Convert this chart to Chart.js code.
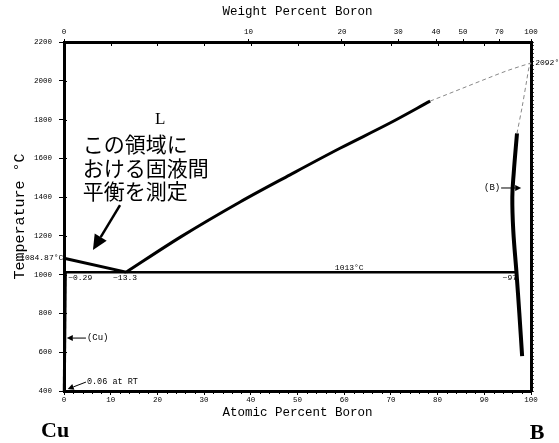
<!DOCTYPE html>
<html><head><meta charset="utf-8">
<script src="https://cdn.jsdelivr.net/npm/chart.js@4/dist/chart.umd.min.js"></script>
<style>html,body{margin:0;padding:0;background:#fff;}canvas{display:block}</style>
</head><body>
<canvas id="c" width="559" height="443"></canvas>
<script>
// ---- data (atomic % B, temperature °C) ----
const atomicTicks = [0,10,20,30,40,50,60,70,80,90,100];
const weightTickLabels = [0,10,20,30,40,50,70,100];
const tempTicks = [400,600,800,1000,1200,1400,1600,1800,2000,2200];
const liquidusCuX = [0, 13.3];
const liquidusCuT = [1084.87, 1013];
const liquidusBX = [13.3, 25, 37.7, 48.4, 59.1, 69.8, 78.4];
const liquidusBT = [1013, 1195, 1375, 1515, 1652, 1782, 1895];
const liquidusBDashX = [78.4, 83.3, 90.6, 94.9, 100];
const liquidusBDashT = [1895, 1942, 2012, 2052, 2092];
const solvusBX = [97.0, 96.3, 96.0, 96.2, 96.9, 97.5, 98.1];
const solvusBT = [1729, 1524, 1400, 1230, 1008, 802, 580];
const solvusBDashX = [97.0, 98.1, 99.1, 99.6, 100];
const solvusBDashT = [1729, 1865, 2004, 2072, 2092];
const eutecticX = [0, 96.9];
const eutecticT = [1013, 1013];
const solvusCuX = [0.29, 0.06];
const solvusCuT = [1013, 400];

const M_B = 10.81, M_CU = 63.546;
const wtToAt = w => { const b = w / M_B, c = (100 - w) / M_CU; return 100 * b / (b + c); };
const pts = (xs, ys) => xs.map((v, i) => ({x: v, y: ys[i]}));

const MONO = '"Liberation Mono", "DejaVu Sans Mono", monospace';

function ds(xs, ys, w, dash, color, smooth) {
  const d = {data: pts(xs, ys), showLine: true, pointRadius: 0, borderColor: color || '#000',
    borderWidth: w, borderDash: dash || [], tension: 0, fill: false, clip: false};
  if (smooth === 'mono') d.cubicInterpolationMode = 'monotone';
  else if (smooth) d.tension = smooth;
  return d;
}

// annotation texts in data coordinates
const notes = [
  {t:'1084.87°C', x:-0.15, y:1086, align:'right', size:8},
  {t:'~0.29', x:0.9, y:983, align:'left', size:8},
  {t:'~13.3', x:10.5, y:983, align:'left', size:8},
  {t:'1013°C', x:58.0, y:1034, align:'left', size:8},
  {t:'~97', x:97.0, y:981, align:'right', size:8},
  {t:'(Cu)', x:4.9, y:673, align:'left', size:9},
  {t:'0.06 at RT', x:4.9, y:446, align:'left', size:8.5},
  {t:'(B)', x:93.4, y:1447, align:'right', size:9},
  {t:'2092°C', x:100.9, y:2092, align:'left', size:8}
];
const jpLines = ['この領域に', 'おける固液間', '平衡を測定'];
const jpY = [1674, 1550, 1431];
const arrows = [
  {from:[12.0,1359], to:[6.2,1127], head:15, hw:7, lw:2.5},
  {from:[4.7,673], to:[0.6,673], head:6, hw:3, lw:1},
  {from:[4.7,446], to:[0.8,410], head:6, hw:3, lw:1},
  {from:[93.6,1447], to:[97.9,1447], head:6, hw:3, lw:1}
];

const annot = {
  id: 'annot',
  afterDraw(chart) {
    const {ctx, scales: {x, y}} = chart;
    const px = v => x.getPixelForValue(v), py = v => y.getPixelForValue(v);
    ctx.save();
    ctx.fillStyle = '#000'; ctx.strokeStyle = '#000';
    ctx.lineWidth = 1;
    for (let v = 2; v < 100; v += 2) {
      if (v % 10 === 0) continue;
      const X = Math.round(px(v)) + 0.5;
      ctx.beginPath(); ctx.moveTo(X, y.bottom + 1); ctx.lineTo(X, y.bottom + 3); ctx.stroke();
    }
    tempTicks.forEach(t => {
      const Y = Math.round(py(t)) + 0.5;
      ctx.beginPath(); ctx.moveTo(x.left, Y); ctx.lineTo(x.left + 3, Y); ctx.stroke();
    });
    atomicTicks.forEach(a => {
      const X = Math.round(px(a)) + 0.5;
      ctx.beginPath(); ctx.moveTo(X, y.top); ctx.lineTo(X, y.top + 4); ctx.stroke();
    });
    ctx.textBaseline = 'middle';
    notes.forEach(n => {
      ctx.font = n.size + 'px ' + MONO;
      ctx.textAlign = n.align;
      ctx.fillText(n.t, px(n.x), py(n.y));
    });
    ctx.font = '17px "Liberation Serif", serif';
    ctx.textAlign = 'center';
    ctx.fillText('L', px(20.6), py(1798));
    ctx.font = '21px "Noto Sans CJK JP", sans-serif';
    ctx.textAlign = 'left';
    jpLines.forEach((s, i) => ctx.fillText(s, px(4.0), py(jpY[i])));
    ctx.font = 'bold 22px "Liberation Serif", serif';
    ctx.textAlign = 'center';
    ctx.fillText('Cu', px(-1.9), py(194));
    ctx.fillText('B', px(101.3), py(183));
    arrows.forEach(a => {
      const x1 = px(a.from[0]), y1 = py(a.from[1]), x2 = px(a.to[0]), y2 = py(a.to[1]);
      const ang = Math.atan2(y2 - y1, x2 - x1);
      const bx = x2 - a.head * Math.cos(ang), by = y2 - a.head * Math.sin(ang);
      ctx.lineWidth = a.lw;
      ctx.beginPath(); ctx.moveTo(x1, y1); ctx.lineTo(bx, by); ctx.stroke();
      ctx.beginPath();
      ctx.moveTo(x2, y2);
      ctx.lineTo(bx + a.hw * Math.sin(ang), by - a.hw * Math.cos(ang));
      ctx.lineTo(bx - a.hw * Math.sin(ang), by + a.hw * Math.cos(ang));
      ctx.closePath(); ctx.fill();
    });
    ctx.restore();
  }
};

const minorT = [];
for (let t = 400; t <= 2200; t += 20) minorT.push(t);

new Chart(document.getElementById('c'), {
  type: 'scatter',
  data: {datasets: [
    ds(eutecticX, eutecticT, 2.5),
    ds(solvusCuX, solvusCuT, 3),
    ds(liquidusCuX, liquidusCuT, 3),
    ds(liquidusBX, liquidusBT, 3, null, '#000', 'mono'),
    ds(liquidusBDashX, liquidusBDashT, 1, [4, 3], '#888', 'mono'),
    ds(solvusBDashX, solvusBDashT, 1, [4, 3], '#888', 0.3),
    ds(solvusBX, solvusBT, 4, null, '#000', 0.4)
  ]},
  options: {
    responsive: false, animation: false, devicePixelRatio: 1,
    layout: {padding: 0},
    plugins: {legend: {display: false}, tooltip: {enabled: false}},
    scales: {
      x: {
        type: 'linear', position: 'bottom', min: 0, max: 100,
        afterBuildTicks: s => { s.ticks = atomicTicks.map(v => ({value: v})); },
        ticks: {font: {family: MONO, size: 7.5}, color: '#000', padding: 1, maxRotation: 0, autoSkip: false,
          callback: v => String(v)},
        grid: {drawOnChartArea: false, drawTicks: true, tickLength: 4, color: '#000', lineWidth: 1},
        border: {display: true, color: '#000', width: 3},
        title: {display: true, text: 'Atomic Percent Boron', color: '#000',
          font: {family: MONO, size: 12.5}, padding: {top: 0, bottom: 22.5}},
        afterFit: s => { s.height = 52; }
      },
      xTop: {
        type: 'linear', position: 'top', min: 0, max: 100,
        afterBuildTicks: s => { s.ticks = weightTickLabels.map(w => ({value: wtToAt(w)})); },
        ticks: {font: {family: MONO, size: 7.5}, color: '#000', padding: 2, maxRotation: 0, autoSkip: false,
          callback: (v, i) => String(weightTickLabels[i])},
        grid: {drawOnChartArea: false, drawTicks: true, tickLength: 3, color: '#000', lineWidth: 1},
        border: {display: true, color: '#000', width: 3},
        title: {display: true, text: 'Weight Percent Boron', color: '#000',
          font: {family: MONO, size: 12.5}, padding: {top: 4.5, bottom: 0}},
        afterFit: s => { s.height = 42; }
      },
      y: {
        type: 'linear', position: 'left', min: 400, max: 2200,
        afterBuildTicks: s => { s.ticks = tempTicks.map(v => ({value: v})); },
        ticks: {font: {family: MONO, size: 7.5}, color: '#000', padding: 7, autoSkip: false,
          callback: v => String(v)},
        grid: {drawOnChartArea: false, drawTicks: true, tickLength: 5, color: '#000', lineWidth: 1},
        border: {display: true, color: '#000', width: 3},
        title: {display: true, text: 'Temperature °C', color: '#000',
          font: {family: MONO, size: 15}, padding: {top: 11, bottom: 0}},
        afterFit: s => { s.width = 64; }
      },
      yRight: {
        type: 'linear', position: 'right', min: 400, max: 2200,
        afterBuildTicks: s => { s.ticks = minorT.map(v => ({value: v})); },
        ticks: {display: false},
        grid: {drawOnChartArea: false, drawTicks: true, tickLength: 3, color: '#444', lineWidth: 1},
        border: {display: true, color: '#000', width: 3},
        afterFit: s => { s.width = 28; }
      }
    }
  },
  plugins: [annot]
});
</script>
</body></html>
